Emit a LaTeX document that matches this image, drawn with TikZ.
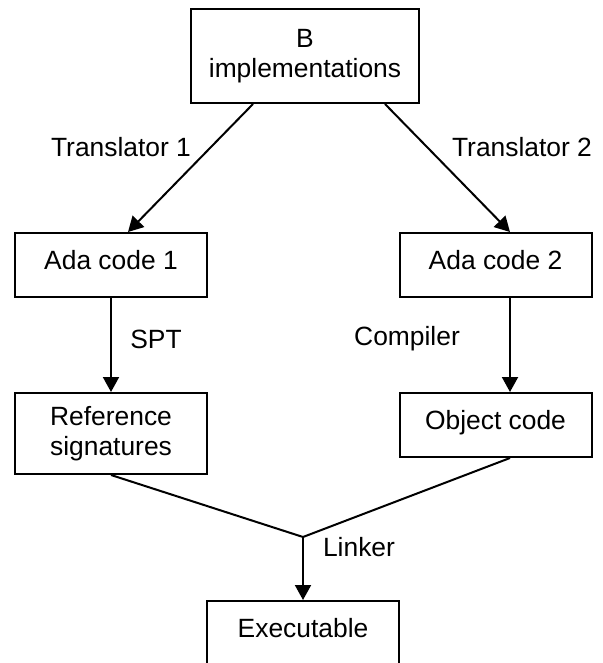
\documentclass[tikz,border=0pt]{standalone}
\usepackage{fontspec}
\setmainfont{Liberation Sans}
\usetikzlibrary{arrows.meta,positioning}

\begin{document}
\begin{tikzpicture}[x=0.5pt, y=-0.5pt, ->, >={Triangle[length=7.5pt,width=8pt]}, line width=1pt, font=\fontsize{13.2}{15.2}\selectfont]
\tikzset{box/.style={draw, rectangle, align=center, inner sep=0pt, minimum width=96pt, minimum height=32pt},
  oneline/.style={text height=9pt, text depth=5pt}}
\useasboundingbox (0,0) rectangle (602,663);

\node[box, minimum width=114pt, minimum height=47pt] (top) at (305,56) {B\\implementations};
\node[box, oneline] (ada1) at (111,265) {Ada code 1};
\node[box, oneline] (ada2) at (495.5,265) {Ada code 2};
\node[box, minimum height=40.5pt] (refsig) at (111,433.5) {Reference\\signatures};
\node[box, oneline] (objcode) at (495.5,425) {Object code};
\node[box, oneline] (exe) at (303,633) {Executable};
\coordinate (merge) at (303,537);

\node (tr1) at (121,147) {Translator 1};
\node (tr2) at (522,147) {Translator 2};
\node (spt) at (156,339) {SPT};
\node (comp) at (407,339) {Compiler};
\node (link) at (359,547) {Linker};

\draw ([xshift=-26pt]top.south) -- ([xshift=8.5pt]ada1.north);
\draw ([xshift=40pt]top.south) -- ([xshift=7.25pt]ada2.north);
\draw (ada1) -- (refsig);
\draw ([xshift=7.25pt]ada2.south) -- ([xshift=7.25pt]objcode.north);
\draw[-] (refsig.south) -- (merge);
\draw[-] ([xshift=7.25pt]objcode.south) -- (merge);
\draw (merge) -- (exe.north);
\end{tikzpicture}
\end{document}
